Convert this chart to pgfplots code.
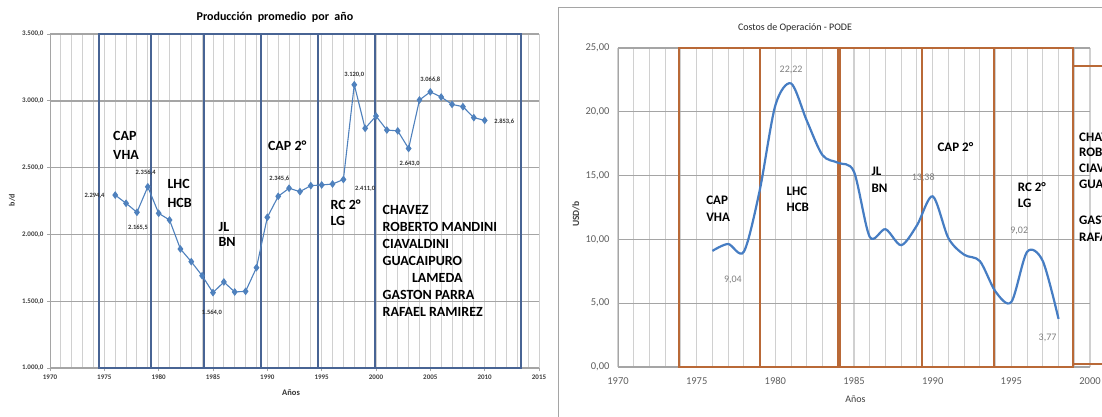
\documentclass[border=0pt]{standalone}
\usepackage{fontspec}
\setmainfont{Carlito}
\usepackage{pgfplots}
\pgfplotsset{compat=1.18}

\definecolor{prodblue}{RGB}{79,129,189}
\definecolor{boxblue}{RGB}{72,100,148}
\definecolor{costblue}{RGB}{70,125,195}
\definecolor{boxbrown}{RGB}{185,105,55}
\definecolor{gridlight}{RGB}{208,208,208}
\definecolor{gridmid}{RGB}{165,165,165}
\definecolor{labgray}{RGB}{95,95,95}

\begin{document}
\begin{tikzpicture}
\useasboundingbox (0pt,0pt) rectangle (1102pt,416pt);
\clip (0pt,0pt) rectangle (1102pt,416pt);
\fill[white] (0pt,0pt) rectangle (1102pt,416pt);

% ---------- Produccion promedio por anno ----------
\begin{axis}[
  at={(50pt,48pt)}, anchor=south west, scale only axis,
  width=489pt, height=334pt,
  xmin=1970, xmax=2015, ymin=1000, ymax=3500,
  xtick={1970,1975,...,2015}, minor x tick num=4,
  ytick={1000,1500,...,3500},
  axis lines=left, axis line style={-, gridmid, line width=1pt},
  xmajorgrids, xminorgrids, ymajorgrids,
  major x grid style={gridlight, line width=0.9pt},
  minor x grid style={gridlight, line width=0.9pt},
  major y grid style={gridmid, line width=1.4pt},
  tick style={gridmid, line width=0.8pt}, tick align=outside,
  major tick length=3pt, minor tick length=0pt,
  /pgf/number format/assume math mode=true,
  ticklabel style={font=\fontsize{7}{8}\selectfont\bfseries, text=black!75},
  xticklabel style={/pgf/number format/1000 sep={}},
  yticklabel style={/pgf/number format/.cd, fixed, fixed zerofill, precision=1, use comma, 1000 sep={.}},
  clip=false,
]
% periodos de gobierno
\draw[boxblue, line width=2pt] (1974.5,1000) rectangle (1979.3,3500);
\draw[boxblue, line width=2pt] (1979.3,1000) rectangle (1984.2,3500);
\draw[boxblue, line width=2pt] (1984.2,1000) rectangle (1989.4,3500);
\draw[boxblue, line width=2pt] (1989.4,1000) rectangle (1994.7,3500);
\draw[boxblue, line width=2pt] (1994.7,1000) rectangle (1999.95,3500);
\draw[boxblue, line width=2pt] (1999.95,1000) rectangle (2013.3,3500);

\addplot[prodblue, line width=1.1pt, mark=diamond*, mark size=3pt,
  mark options={fill=prodblue}] coordinates {
  (1976,2294.4) (1977,2233) (1978,2165.5) (1979,2356.4) (1980,2158)
  (1981,2108) (1982,1891) (1983,1796) (1984,1691) (1985,1564.0)
  (1986,1644) (1987,1569) (1988,1574) (1989,1751) (1990,2128)
  (1991,2285) (1992,2345.6) (1993,2320) (1994,2365) (1995,2370)
  (1996,2377) (1997,2411.0) (1998,3120.0) (1999,2794) (2000,2886)
  (2001,2781) (2002,2775) (2003,2643.0) (2004,3006) (2005,3066.8)
  (2006,3028) (2007,2973) (2008,2956) (2009,2874) (2010,2853.6)
};

% etiquetas de datos
\begin{scope}[every node/.style={font=\fontsize{6.5}{7}\selectfont\bfseries, text=black!80}]
\node at (1974.1,2290) {2.294,4};
\node at (1978.1,2050) {2.165,5};
\node at (1978.8,2462) {2.356,4};
\node at (1984.9,1417) {1.564,0};
\node at (1991.1,2415) {2.345,6};
\node at (1999.0,2345) {2.411,0};
\node at (1998.0,3193) {3.120,0};
\node at (2003.1,2532) {2.643,0};
\node at (2005.0,3156) {3.066,8};
\node at (2011.8,2844) {2.853,6};
\end{scope}

% presidentes
\begin{scope}[every node/.style={font=\fontsize{14}{16}\selectfont\bfseries, anchor=west, inner sep=0pt}]
\node at (1975.8,2736) {CAP};
\node at (1975.8,2594) {VHA};
\node at (1980.8,2377) {LHC};
\node at (1980.8,2235) {HCB};
\node at (1985.5,2055) {JL};
\node at (1985.5,1943) {BN};
\node at (1990.05,2662) {CAP 2°};
\node at (1995.8,2220) {RC 2°};
\node at (1995.8,2100) {LG};
\node at (2000.6,2183) {CHAVEZ};
\node at (2000.6,2055) {ROBERTO MANDINI};
\node at (2000.6,1928) {CIAVALDINI};
\node at (2000.6,1801) {GUACAIPURO};
\node at (2003.3,1674) {LAMEDA};
\node at (2000.6,1547) {GASTON PARRA};
\node at (2000.6,1419) {RAFAEL RAMIREZ};
\end{scope}

\node[font=\fontsize{12}{14}\selectfont\bfseries, anchor=base] at (rel axis cs:0.46,1) [yshift=13pt] {Producción\ \ promedio\ \ por\ \ año};
\node[font=\fontsize{8.5}{10}\selectfont\bfseries, anchor=base, text=black!80] at (rel axis cs:0.493,0) [yshift=-27pt] {Años};
\node[font=\fontsize{8}{10}\selectfont\bfseries, rotate=90, text=black!80] at (rel axis cs:0,0.503) [yshift=38pt] {b/d};
\end{axis}

% marco del segundo grafico
\draw[gridmid, line width=0.8pt] (558pt,409pt) rectangle (1130pt,-10pt);

% ---------- Costos de Operacion - PODE ----------
\begin{axis}[
  at={(618pt,49pt)}, anchor=south west, scale only axis,
  width=472pt, height=319pt,
  xmin=1970, xmax=2000, ymin=0, ymax=25,
  xtick={1970,1975,...,2000}, minor x tick num=4,
  ytick={0,5,...,25},
  axis lines=left, axis line style={-, gridmid, line width=1pt},
  xmajorgrids, xminorgrids, ymajorgrids,
  major x grid style={gridlight, line width=1.1pt},
  minor x grid style={gridlight, line width=1.1pt},
  major y grid style={gridmid, line width=1.1pt},
  major tick length=0pt, minor tick length=0pt,
  /pgf/number format/assume math mode=true,
  ticklabel style={font=\fontsize{10.5}{12}\selectfont, text=labgray},
  xticklabel style={yshift=-7pt, /pgf/number format/1000 sep={}},
  yticklabel style={xshift=-5pt, /pgf/number format/.cd, fixed, fixed zerofill, precision=2, use comma, 1000 sep={.}},
  clip=false,
]
\draw[boxbrown, line width=2pt] (1973.9,0) rectangle (1979.0,25);
\draw[boxbrown, line width=2pt] (1979.0,0) rectangle (1984.0,25);
\draw[boxbrown, line width=2pt] (1984.1,0) rectangle (1989.3,25);
\draw[boxbrown, line width=2pt] (1989.3,0) rectangle (1993.9,25);
\draw[boxbrown, line width=2pt] (1993.9,0) rectangle (1998.9,25);
\draw[boxbrown, line width=2pt] (2004,0.2) -- (1998.9,0.2) -- (1998.9,23.6) -- (2004,23.6);

\addplot[costblue, line width=2.2pt, smooth] coordinates {
  (1976,9.1) (1977,9.64) (1978,9.04) (1979,13.8) (1980,20.5)
  (1981,22.22) (1982,19.3) (1983,16.6) (1984,16.0) (1985,15.3)
  (1986,10.2) (1987,10.8) (1988,9.55) (1989,11.1) (1990,13.38)
  (1991,10.1) (1992,8.8) (1993,8.3) (1994,5.9) (1995,5.1)
  (1996,9.02) (1997,8.3) (1998,3.77)
};

\begin{scope}[every node/.style={font=\fontsize{10}{12}\selectfont, text=black!50}]
\node at (1981.0,23.25) {22,22};
\node at (1977.3,6.8) {9,04};
\node at (1989.4,14.8) {13,38};
\node at (1995.5,10.7) {9,02};
\node at (1997.3,2.3) {3,77};
\end{scope}

\begin{scope}[every node/.style={font=\fontsize{13}{15}\selectfont\bfseries, anchor=west, inner sep=0pt}]
\node at (1975.6,13.1) {CAP};
\node at (1975.6,11.75) {VHA};
\node at (1980.7,13.8) {LHC};
\node at (1980.7,12.5) {HCB};
\node at (1986.1,15.3) {JL};
\node at (1986.1,14.0) {BN};
\node at (1990.3,17.2) {CAP 2°};
\node at (1995.4,14.1) {RC 2°};
\node at (1995.4,12.8) {LG};
\node at (1999.3,18.0) {CHAVEZ};
\node at (1999.3,16.8) {ROBERTO MANDINI};
\node at (1999.3,15.6) {CIAVALDINI};
\node at (1999.3,14.3) {GUACAIPURO};
\node at (2001.0,12.9) {LAMEDA};
\node at (1999.3,11.5) {GASTON PARRA};
\node at (1999.3,10.2) {RAFAEL RAMIREZ};
\end{scope}

\node[font=\fontsize{10}{12}\selectfont, anchor=base, text=black!85] at (rel axis cs:0.375,1) [yshift=18pt] {Costos de Operación - PODE};
\node[font=\fontsize{10}{12}\selectfont, anchor=base, text=black!75] at (rel axis cs:0.503,0) [yshift=-35pt] {Años};
\node[font=\fontsize{9.5}{11}\selectfont\bfseries, rotate=90, text=black!75] at (rel axis cs:0,0.48) [yshift=42pt] {USD/b};
\end{axis}
\end{tikzpicture}
\end{document}
